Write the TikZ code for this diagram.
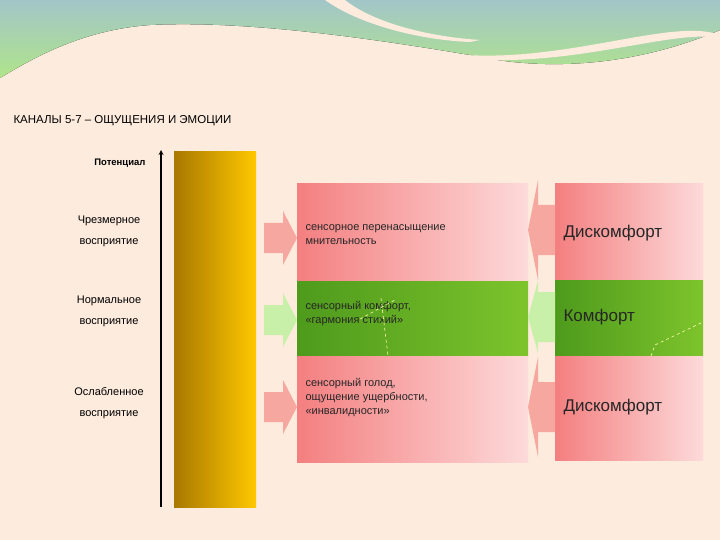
\documentclass[tikz,border=0pt]{standalone}
\usepackage{fontspec}
\setmainfont{Liberation Sans}
\begin{document}
\begin{tikzpicture}[x=1pt,y=-1pt,
  pinkbox/.style={left color=pinkL,right color=pinkR,draw=none},
  greenbox/.style={left color=greenL,right color=greenR,draw=none},
  lab/.style={font=\fontsize{11}{13}\selectfont,align=center},
  mid/.style={font=\fontsize{11}{14}\selectfont,align=left,anchor=north west,text=black!85},
  big/.style={font=\fontsize{17}{20}\selectfont,anchor=west,text=black!85}]
\definecolor{bg}{HTML}{FDEBDD}
\definecolor{pinkL}{HTML}{F47F80}
\definecolor{pinkR}{HTML}{FDDADA}
\definecolor{greenL}{HTML}{4E9A1C}
\definecolor{greenR}{HTML}{7DC42C}
\definecolor{pinkA}{HTML}{F6A8A0}
\definecolor{greenA}{HTML}{C8F0A8}
\definecolor{wtop}{HTML}{A2C6C8}
\definecolor{wbot}{HTML}{B0E48A}
\definecolor{goldL}{HTML}{A87800}
\definecolor{goldR}{HTML}{FFC800}
\useasboundingbox (0,0) rectangle (720,540);
\fill[bg] (0,0) rectangle (720,540);
% top wave
\fill[top color=wtop,bottom color=wbot,draw=none]
 (0,0) -- (720,0) -- (720,30) .. controls (650,60) and (560,75) .. (470,55)
 .. controls (380,40) and (250,20) .. (150,25) .. controls (80,30) and (30,60) .. (0,78) -- cycle;
\fill[bg] (0,80) .. controls (40,55) and (100,25) .. (200,28) .. controls (300,32) and (420,60) .. (510,55)
 .. controls (600,50) and (680,20) .. (720,35) -- (720,38) .. controls (680,30) and (600,58) .. (510,60)
 .. controls (420,64) and (300,40) .. (200,38) .. controls (100,36) and (40,65) .. (0,85) -- cycle;
\fill[bg] (325,0) .. controls (360,25) and (420,40) .. (470,42) -- (480,40) .. controls (420,36) and (370,20) .. (345,0) -- cycle;
\node[anchor=west,font=\fontsize{11.5}{13}\selectfont] (title) at (10,121) {КАНАЛЫ 5-7 – ОЩУЩЕНИЯ И ЭМОЦИИ};
\node[anchor=east,font=\bfseries\fontsize{9.5}{11}\selectfont] (pot) at (149,163) {Потенциал};
\coordinate (axb) at (161,507);
\coordinate (axt) at (161,150);
\draw[line width=1.2pt,-stealth] (axb) -- (axt);
\fill[left color=goldL,right color=goldR] (174,152) rectangle (256,507);
\node[lab] (l1) at (109,231) {Чрезмерное\\[8pt]восприятие};
\node[lab] (l2) at (109,311) {Нормальное\\[8pt]восприятие};
\node[lab] (l3) at (109,403) {Ослабленное\\[8pt]восприятие};
% middle boxes
\node[pinkbox,minimum width=231,minimum height=98,anchor=north west] (m1) at (297,183) {};
\node[greenbox,minimum width=231,minimum height=75,anchor=north west] (m2) at (297,281) {};
\node[pinkbox,minimum width=231,minimum height=106,anchor=north west] (m3) at (297,356) {};
\node[mid] at (302,221) {сенсорное перенасыщение\\мнительность};
\node[mid] at (302,298) {сенсорный комфорт,\\«гармония стихий»};
\node[mid] at (302,375) {сенсорный голод,\\ощущение ущербности,\\«инвалидности»};
\draw[white!70!yellow,dashed,line width=0.6pt] (381,298) -- (388,356);
\draw[white!70!yellow,dashed,line width=0.6pt] (360,319) -- (395,300);
% right boxes
\node[pinkbox,minimum width=148,minimum height=97,anchor=north west] (r1) at (555,183) {};
\node[greenbox,minimum width=148,minimum height=76,anchor=north west] (r2) at (555,280) {};
\node[pinkbox,minimum width=148,minimum height=104,anchor=north west] (r3) at (555,356) {};
\node[big] at (560,233) {Дискомфорт};
\node[big] at (560,317) {Комфорт};
\node[big] at (560,407) {Дискомфорт};
\draw[white!70!yellow,dashed,line width=0.6pt] (651,356) -- (655,345) -- (703,322);
% right arrows
\foreach \y/\c in {238/pinkA,320/greenA,407/pinkA}{
 \fill[\c] (264,\y-15) -- (283,\y-15) -- (283,\y-27) -- (297,\y) -- (283,\y+27) -- (283,\y+15) -- (264,\y+15) -- cycle;
}
% left arrows
\foreach \y/\c/\h in {230/pinkA/50,317/greenA/36,407/pinkA/50}{
 \fill[\c] (555,\y-25) -- (538,\y-25) -- (538,\y-\h) -- (528,\y) -- (538,\y+\h) -- (538,\y+25) -- (555,\y+25) -- cycle;
}
\end{tikzpicture}
\end{document}
